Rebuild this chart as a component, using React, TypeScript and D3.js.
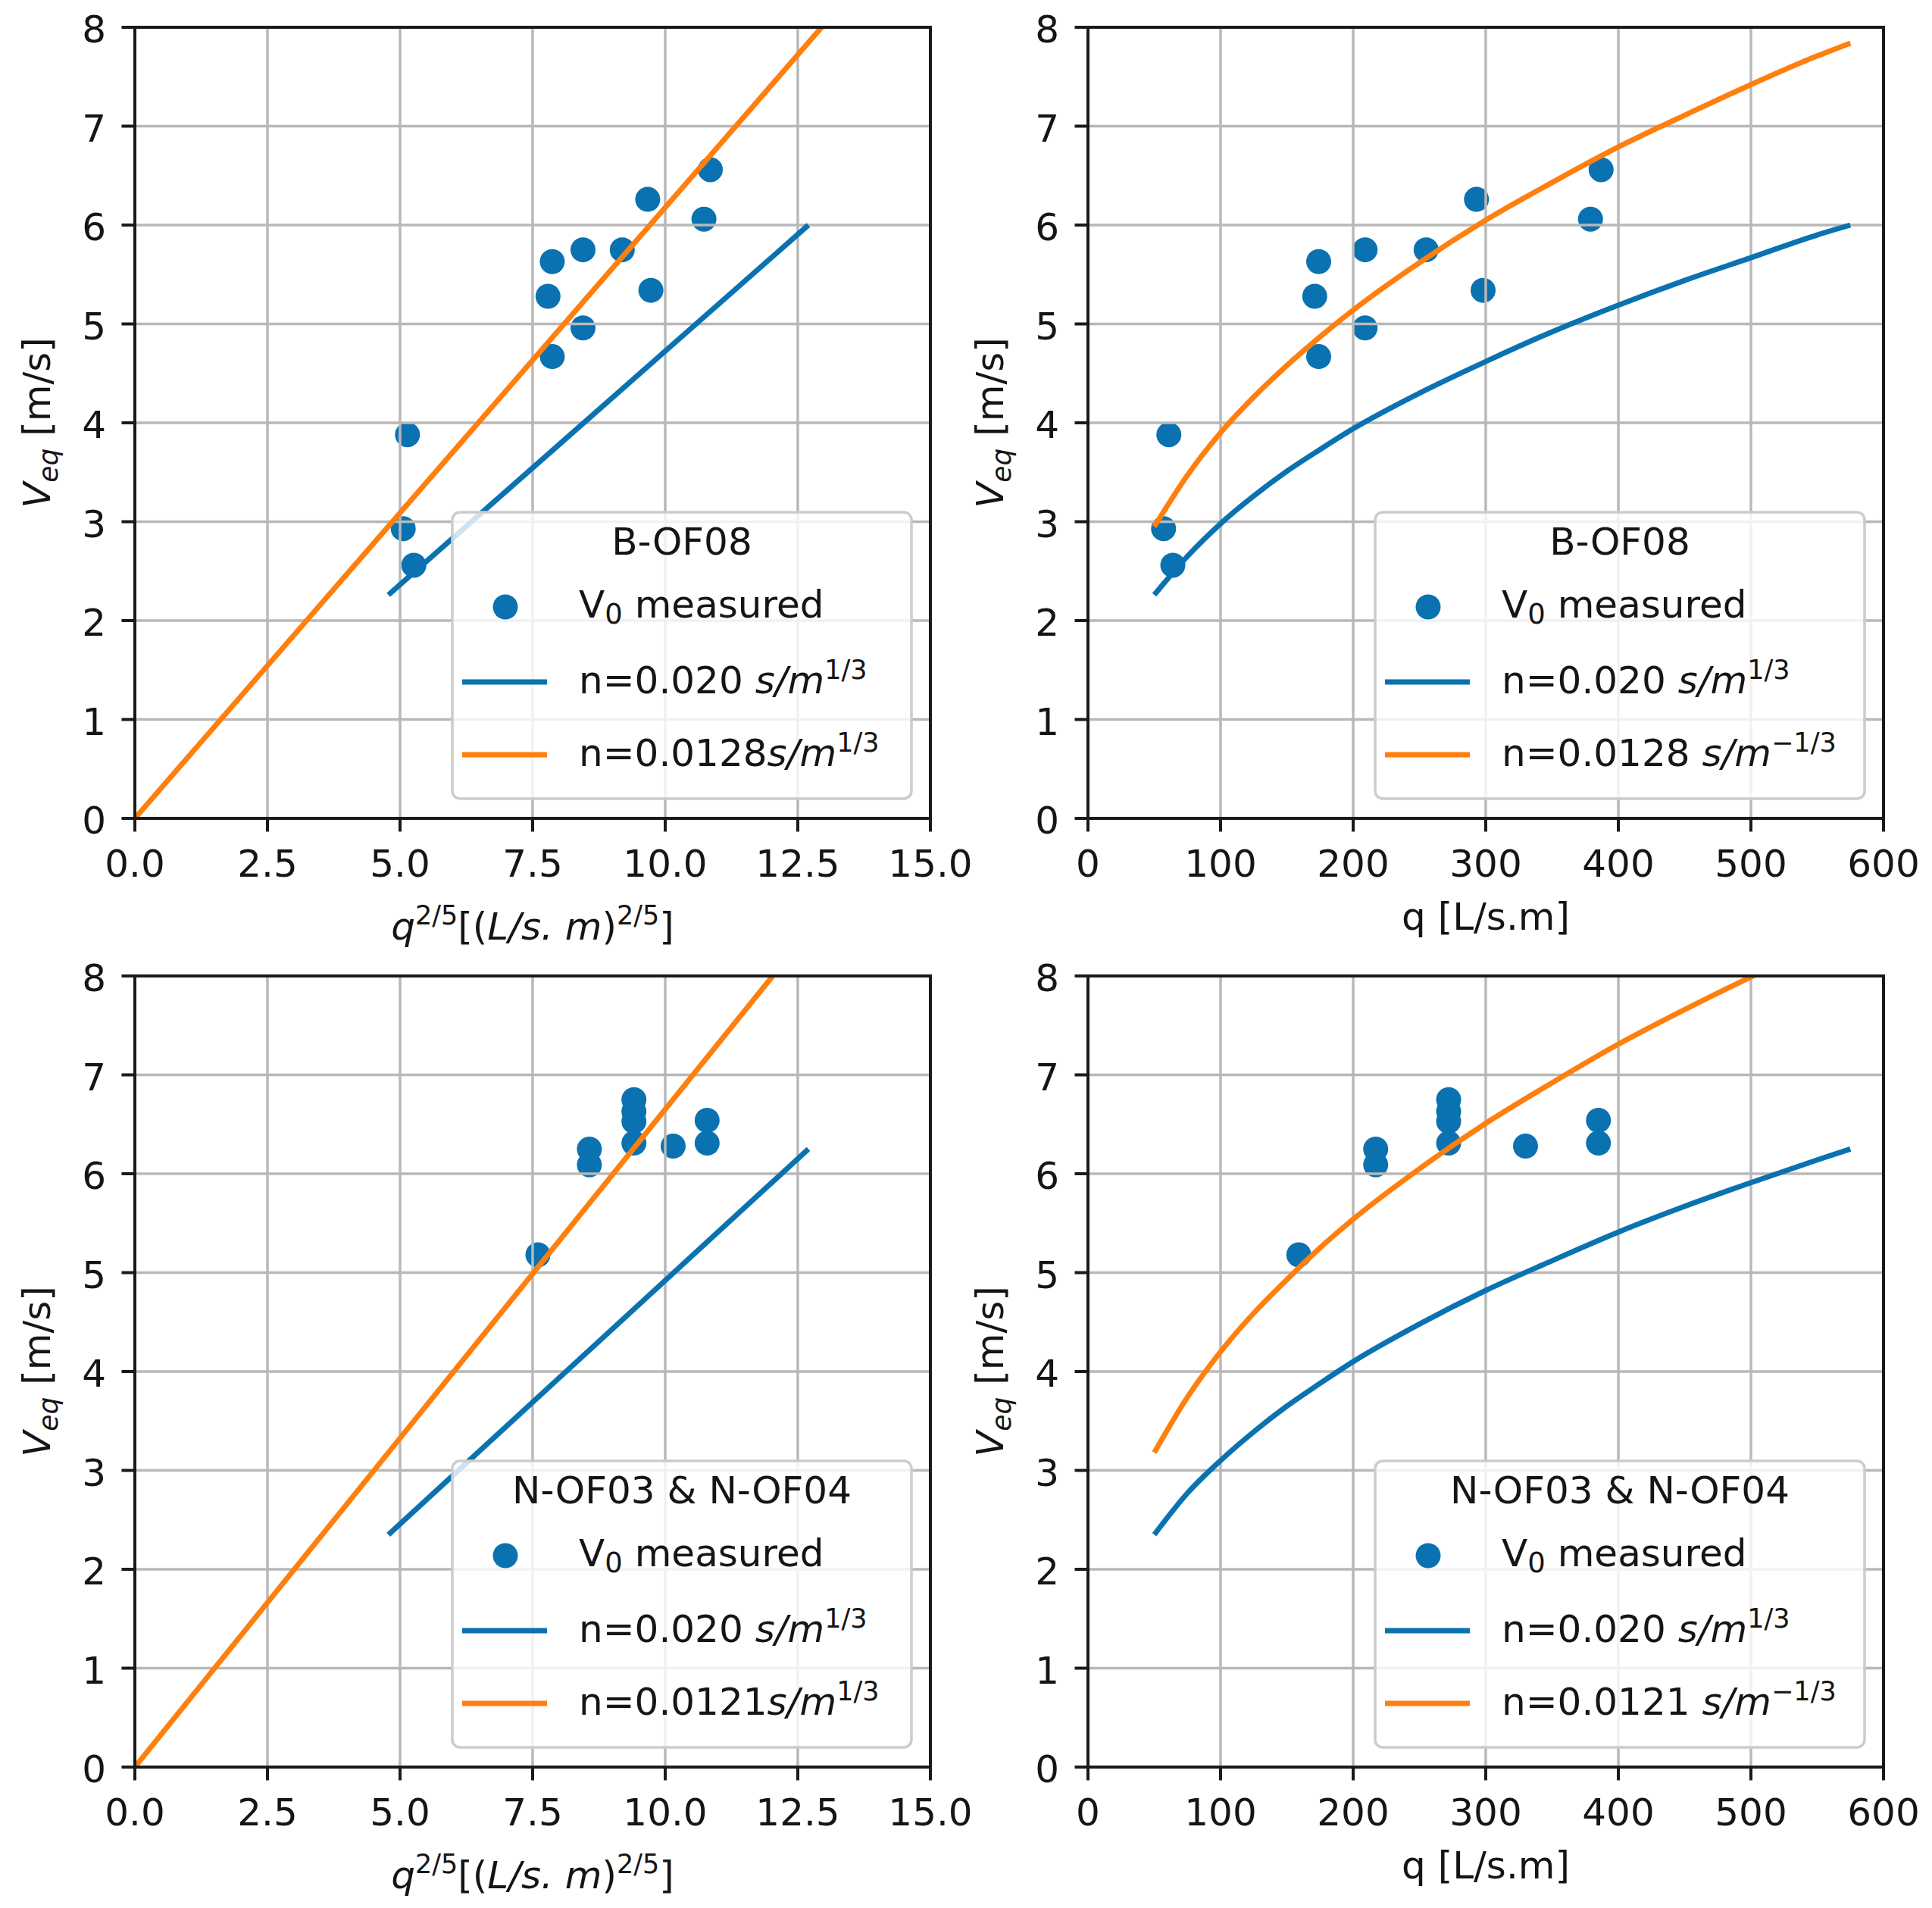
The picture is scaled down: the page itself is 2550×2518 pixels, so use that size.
import React from 'react';
import * as d3 from 'd3';

// ---------- data ----------
// B-OF08 measured points
const bX25 = [5.14, 5.06, 5.26, 7.87, 7.79, 7.87, 8.45, 8.45, 9.19, 9.67, 9.73, 10.73, 10.85];
const bQ = [61, 57, 64, 174, 171, 174, 209, 209, 255, 293, 298, 379, 387];
const bV = [3.88, 2.93, 2.56, 5.63, 5.28, 4.67, 5.75, 4.96, 5.75, 6.26, 5.34, 6.06, 6.56];

// N-OF03 & N-OF04 measured points
const nX25 = [7.6, 8.57, 8.57, 9.41, 9.41, 9.41, 9.41, 10.15, 10.79, 10.79];
const nQ = [159, 217, 217, 272, 272, 272, 272, 330, 385, 385];
const nV = [5.18, 6.25, 6.09, 6.75, 6.63, 6.53, 6.31, 6.28, 6.54, 6.31];

// model curves vs q
const curveQ = [50, 75, 100, 125, 150, 175, 200, 250, 300, 350, 400, 450, 500, 550, 575];
const bBlueV = [2.26, 2.65, 2.98, 3.26, 3.51, 3.73, 3.94, 4.3, 4.62, 4.92, 5.19, 5.44, 5.67, 5.9, 6.0];
const bOrangeV = [2.95, 3.47, 3.9, 4.26, 4.58, 4.87, 5.14, 5.62, 6.05, 6.43, 6.79, 7.11, 7.42, 7.71, 7.84];
const nBlueV = [2.35, 2.77, 3.1, 3.39, 3.65, 3.88, 4.1, 4.48, 4.82, 5.12, 5.41, 5.67, 5.91, 6.14, 6.25];
const nOrangeV = [3.18, 3.74, 4.2, 4.59, 4.93, 5.25, 5.54, 6.05, 6.51, 6.92, 7.31, 7.66, 7.99, 8.3, 8.45];

// model lines vs q^(2/5)
const blueX25 = [4.78, 12.7];
const bBlueLineV = [2.26, 6.0];
const nBlueLineV = [2.35, 6.25];
const orangeX25 = [0, 13.5];
const bOrangeLineV = [0, 8.34];
const nOrangeLineV = [0, 8.98];

// ticks
const yTicks = [0, 1, 2, 3, 4, 5, 6, 7, 8];
const x25Ticks = [0, 2.5, 5, 7.5, 10, 12.5, 15];
const qTicks = [0, 100, 200, 300, 400, 500, 600];

// ---------- styles ----------
const BLUE = '#0a72b0';
const ORANGE = '#ff7f0e';
const FONT = "'DejaVu Sans', sans-serif";
const TXT = '#151515';
const FS = 50;

type Part = { t: string; i?: boolean; s?: 'sup' | 'sub' };

function rich(parts: Part[], supShift = -19, subShift = 8, small = 34) {
  let cur = 0;
  return parts.map((p, k) => {
    const target = p.s === 'sup' ? supShift : p.s === 'sub' ? subShift : 0;
    const dy = target - cur;
    cur = target;
    return (
      <tspan
        key={k}
        dy={dy !== 0 ? dy : undefined}
        fontStyle={p.i ? 'italic' : undefined}
        fontSize={p.s ? small : undefined}
        style={{ whiteSpace: 'pre' }}
      >
        {p.t}
      </tspan>
    );
  });
}

type PanelProps = {
  id: string;
  left: number;
  top: number;
  xDomain: [number, number];
  xTicks: number[];
  xFmt: (v: number) => string;
  xLabel: Part[];
  xLabelDy: number;
  px: number[];
  py: number[];
  blueX: number[];
  blueY: number[];
  orangeX: number[];
  orangeY: number[];
  title: string;
  blueLabel: Part[];
  orangeLabel: Part[];
  legendW: number;
};

function Panel(p: PanelProps) {
  const w = 1050;
  const h = 1044;
  const x = d3.scaleLinear().domain(p.xDomain).range([p.left, p.left + w]);
  const y = d3.scaleLinear().domain([0, 8]).range([p.top + h, p.top]);
  const line = d3
    .line<[number, number]>()
    .x((d) => x(d[0]))
    .y((d) => y(d[1]))
    .curve(d3.curveMonotoneX);
  const blue = line(p.blueX.map((v, i) => [v, p.blueY[i]] as [number, number])) || '';
  const orange = line(p.orangeX.map((v, i) => [v, p.orangeY[i]] as [number, number])) || '';

  const lw = p.legendW;
  const lh = 378;
  const lx = p.left + w - 25 - lw;
  const ly = p.top + h - 26 - lh;

  return (
    <g fontFamily={FONT} fill={TXT}>
      <defs>
        <clipPath id={p.id}>
          <rect x={p.left} y={p.top} width={w} height={h} />
        </clipPath>
      </defs>
      {/* scatter (below grid, as in matplotlib) */}
      <g clipPath={`url(#${p.id})`}>
        {p.px.map((v, i) => (
          <circle key={i} cx={x(v)} cy={y(p.py[i])} r={16.5} fill={BLUE} />
        ))}
      </g>
      {/* grid */}
      <g stroke="#b8b8b8" strokeWidth={3.5}>
        {p.xTicks.map((t) => (
          <line key={'gx' + t} x1={x(t)} x2={x(t)} y1={p.top} y2={p.top + h} />
        ))}
        {yTicks.map((t) => (
          <line key={'gy' + t} x1={p.left} x2={p.left + w} y1={y(t)} y2={y(t)} />
        ))}
      </g>
      {/* lines */}
      <g clipPath={`url(#${p.id})`} fill="none" strokeWidth={7} strokeLinejoin="round">
        <path d={blue} stroke={BLUE} />
        <path d={orange} stroke={ORANGE} />
      </g>
      {/* spines */}
      <rect x={p.left} y={p.top} width={w} height={h} fill="none" stroke="#1a1a1a" strokeWidth={4} />
      {/* ticks */}
      <g stroke="#1a1a1a" strokeWidth={4}>
        {p.xTicks.map((t) => (
          <line key={'tx' + t} x1={x(t)} x2={x(t)} y1={p.top + h} y2={p.top + h + 17.5} />
        ))}
        {yTicks.map((t) => (
          <line key={'ty' + t} x1={p.left - 17.5} x2={p.left} y1={y(t)} y2={y(t)} />
        ))}
      </g>
      <g fontSize={FS}>
        {p.xTicks.map((t) => (
          <text key={'lx' + t} x={x(t)} y={p.top + h + 77} textAnchor="middle">
            {p.xFmt(t)}
          </text>
        ))}
        {yTicks.map((t) => (
          <text key={'ly' + t} x={p.left - 38} y={y(t) + 20} textAnchor="end">
            {t}
          </text>
        ))}
        <text x={p.left + w / 2} y={p.top + h + p.xLabelDy} textAnchor="middle">
          {rich(p.xLabel, -20, 8, 35)}
        </text>
        <text transform={`translate(${p.left - 112},${p.top + h / 2}) rotate(-90)`} textAnchor="middle">
          {rich([{ t: 'V', i: true }, { t: 'eq', i: true, s: 'sub' }, { t: ' [m/s]' }], -19, 10, 36)}
        </text>
      </g>
      {/* legend */}
      <g fontSize={FS}>
        <rect x={lx} y={ly} width={lw} height={lh} rx={10} ry={10} fill="#ffffff" fillOpacity={0.8} stroke="#cccccc" strokeWidth={3.5} />
        <text x={lx + lw / 2} y={ly + 56} textAnchor="middle">
          {p.title}
        </text>
        <circle cx={lx + 70} cy={ly + 125} r={16.5} fill={BLUE} />
        <text x={lx + 167} y={ly + 139}>
          {rich([{ t: 'V' }, { t: '0', s: 'sub' }, { t: ' measured' }], -19, 8, 37)}
        </text>
        <line x1={lx + 13} x2={lx + 125} y1={ly + 224} y2={ly + 224} stroke={BLUE} strokeWidth={7} />
        <text x={lx + 167} y={ly + 239}>
          {rich(p.blueLabel, -19, 8, 35)}
        </text>
        <line x1={lx + 13} x2={lx + 125} y1={ly + 320} y2={ly + 320} stroke={ORANGE} strokeWidth={7} />
        <text x={lx + 167} y={ly + 335}>
          {rich(p.orangeLabel, -19, 8, 35)}
        </text>
      </g>
    </g>
  );
}

const x25Label: Part[] = [
  { t: 'q', i: true },
  { t: '2/5', s: 'sup' },
  { t: '[(' },
  { t: 'L/s. m', i: true },
  { t: ')' },
  { t: '2/5', s: 'sup' },
  { t: ']' },
];
const qLabel: Part[] = [{ t: 'q [L/s.m]' }];
const blueLbl: Part[] = [{ t: 'n=0.020 ' }, { t: 's/m', i: true }, { t: '1/3', s: 'sup' }];

export default function App() {
  const fmt1 = (v: number) => v.toFixed(1);
  const fmt0 = (v: number) => String(v);
  return (
    <svg
      width={2550}
      height={2518}
      viewBox="0 0 2550 2518"
      style={{ position: 'absolute', left: 0, top: 0, background: '#fff' }}
    >
      <rect x={0} y={0} width={2550} height={2518} fill="#fff" />
      <Panel
        id="c1"
        left={178}
        top={36}
        xDomain={[0, 15]}
        xTicks={x25Ticks}
        xFmt={fmt1}
        xLabel={x25Label}
        xLabelDy={160}
        px={bX25}
        py={bV}
        blueX={blueX25}
        blueY={bBlueLineV}
        orangeX={orangeX25}
        orangeY={bOrangeLineV}
        title="B-OF08"
        blueLabel={blueLbl}
        orangeLabel={[{ t: 'n=0.0128' }, { t: 's/m', i: true }, { t: '1/3', s: 'sup' }]}
        legendW={606}
      />
      <Panel
        id="c2"
        left={1436}
        top={36}
        xDomain={[0, 600]}
        xTicks={qTicks}
        xFmt={fmt0}
        xLabel={qLabel}
        xLabelDy={147}
        px={bQ}
        py={bV}
        blueX={curveQ}
        blueY={bBlueV}
        orangeX={curveQ}
        orangeY={bOrangeV}
        title="B-OF08"
        blueLabel={blueLbl}
        orangeLabel={[{ t: 'n=0.0128 ' }, { t: 's/m', i: true }, { t: '\u22121/3', s: 'sup' }]}
        legendW={646}
      />
      <Panel
        id="c3"
        left={178}
        top={1288}
        xDomain={[0, 15]}
        xTicks={x25Ticks}
        xFmt={fmt1}
        xLabel={x25Label}
        xLabelDy={160}
        px={nX25}
        py={nV}
        blueX={blueX25}
        blueY={nBlueLineV}
        orangeX={orangeX25}
        orangeY={nOrangeLineV}
        title="N-OF03 & N-OF04"
        blueLabel={blueLbl}
        orangeLabel={[{ t: 'n=0.0121' }, { t: 's/m', i: true }, { t: '1/3', s: 'sup' }]}
        legendW={606}
      />
      <Panel
        id="c4"
        left={1436}
        top={1288}
        xDomain={[0, 600]}
        xTicks={qTicks}
        xFmt={fmt0}
        xLabel={qLabel}
        xLabelDy={147}
        px={nQ}
        py={nV}
        blueX={curveQ}
        blueY={nBlueV}
        orangeX={curveQ}
        orangeY={nOrangeV}
        title="N-OF03 & N-OF04"
        blueLabel={blueLbl}
        orangeLabel={[{ t: 'n=0.0121 ' }, { t: 's/m', i: true }, { t: '\u22121/3', s: 'sup' }]}
        legendW={646}
      />
    </svg>
  );
}
